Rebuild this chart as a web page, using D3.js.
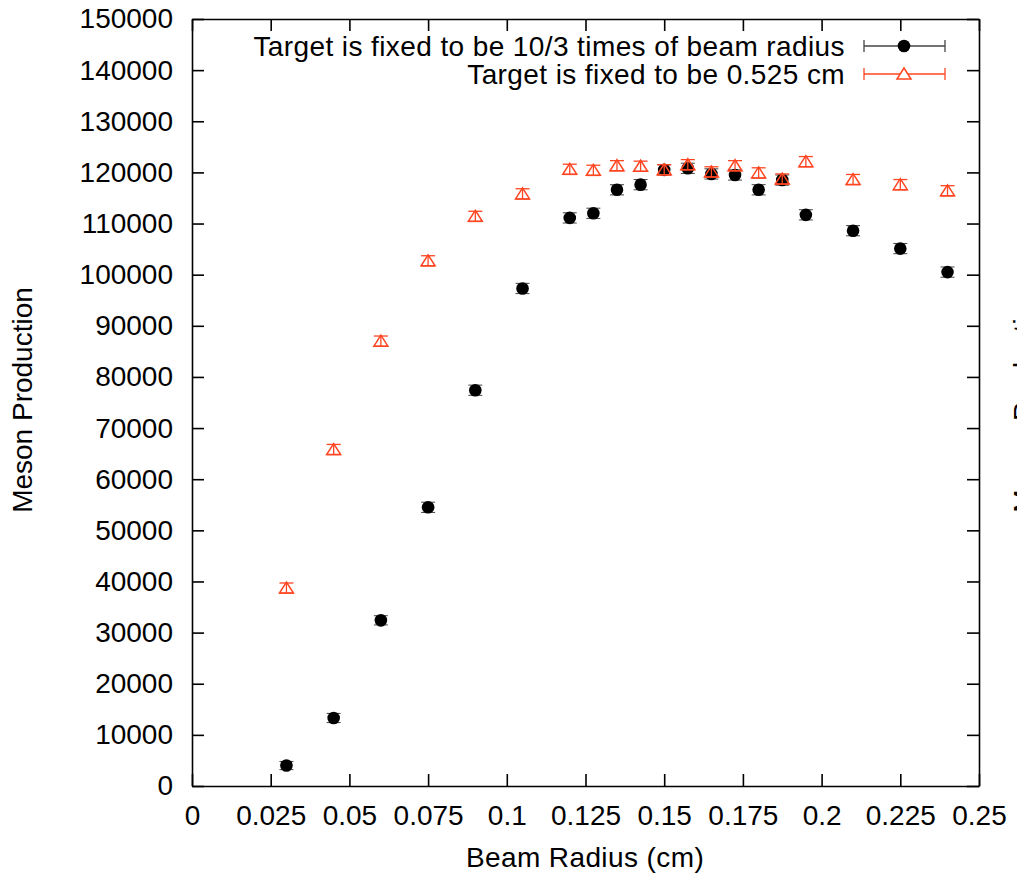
<!DOCTYPE html>
<html>
<head>
<meta charset="utf-8">
<script src="https://cdn.jsdelivr.net/npm/d3@7"></script>
<style>
  html, body { margin: 0; padding: 0; background: #fff; }
  svg { display: block; }
  text { font-family: "Liberation Sans", Arial, Helvetica, sans-serif; fill: #000; }
</style>
</head>
<body>
<svg id="chart" width="1017" height="873"></svg>
<script>
// ---- data ----
const beamRadius = [0.03, 0.045, 0.06, 0.075, 0.09, 0.105, 0.12, 0.1275, 0.135, 0.1425,
                    0.15, 0.1575, 0.165, 0.1725, 0.18, 0.1875, 0.195, 0.21, 0.225, 0.24];
const scaledTarget = [4000, 13300, 32400, 54500, 77400, 97300, 111100, 112000, 116600, 117600,
                      120500, 120800, 119700, 119500, 116600, 118500, 111700, 108600, 105100, 100500];
const scaledErr = [800, 900, 900, 1000, 1000, 1000, 1000, 1000, 1000, 1000,
                   1000, 1000, 1000, 1000, 1000, 1000, 1000, 1000, 1000, 1000];
const fixedTarget = [38700, 65800, 87000, 102700, 111400, 115800, 120600, 120400, 121300, 121200,
                     120500, 121500, 120100, 121300, 119900, 118700, 122100, 118600, 117600, 116400];
const fixedErr = [1000, 1000, 1000, 1000, 1000, 1000, 1000, 1000, 1000, 1000,
                  1000, 1000, 1000, 1000, 1000, 1000, 1000, 1000, 1000, 1000];
const xTicks = [0, 0.025, 0.05, 0.075, 0.1, 0.125, 0.15, 0.175, 0.2, 0.225, 0.25];
const xTickLabels = ["0", "0.025", "0.05", "0.075", "0.1", "0.125", "0.15", "0.175", "0.2", "0.225", "0.25"];
const yTicks = [0, 10000, 20000, 30000, 40000, 50000, 60000, 70000, 80000, 90000, 100000,
                110000, 120000, 130000, 140000, 150000];
const legendLabels = ["Target is fixed to be 10/3 times of beam radius", "Target is fixed to be 0.525 cm"];
const xTitle = "Beam Radius (cm)";
const yTitle = "Meson Production";

// ---- layout ----
const L = 192, R = 979, T = 19, B = 786;
const RED = "#ff4522";
const FS = 28;

const svg = d3.select("#chart");
const x = d3.scaleLinear().domain([0, 0.25]).range([L, R]);
const y = d3.scaleLinear().domain([0, 150000]).range([B, T]);

function styleAxis(g) {
  g.selectAll("path.domain").attr("stroke", "#000").attr("stroke-width", 1.6);
  g.selectAll(".tick line").attr("stroke", "#000").attr("stroke-width", 1.6);
  g.selectAll("text").attr("font-size", FS).attr("font-family", '"Liberation Sans", Arial, Helvetica, sans-serif');
}

// bottom
svg.append("g").attr("transform", `translate(0,${B})`)
  .call(d3.axisBottom(x).tickValues(xTicks).tickFormat((d, i) => xTickLabels[i])
        .tickSizeInner(-12).tickSizeOuter(0).tickPadding(19))
  .call(styleAxis);
// top
svg.append("g").attr("transform", `translate(0,${T})`)
  .call(d3.axisTop(x).tickValues(xTicks).tickFormat("")
        .tickSizeInner(-12).tickSizeOuter(0))
  .call(styleAxis);
// left
svg.append("g").attr("transform", `translate(${L},0)`)
  .call(d3.axisLeft(y).tickValues(yTicks).tickFormat(d3.format("d"))
        .tickSizeInner(-12).tickSizeOuter(0).tickPadding(19))
  .call(styleAxis);
// right
svg.append("g").attr("transform", `translate(${R},0)`)
  .call(d3.axisRight(y).tickValues(yTicks).tickFormat("")
        .tickSizeInner(-12).tickSizeOuter(0))
  .call(styleAxis);

// titles
svg.append("text").attr("x", 585).attr("y", 867).attr("text-anchor", "middle")
  .attr("font-size", FS).attr("letter-spacing", 0.4).text(xTitle);
svg.append("text").attr("transform", `translate(32,400) rotate(-90)`)
  .attr("text-anchor", "middle").attr("font-size", FS).text(yTitle);
// partial label of the neighbouring chart, cut by the right edge as in the reference
svg.append("text").attr("transform", `translate(1033,400) rotate(-90)`)
  .attr("text-anchor", "middle").attr("font-size", FS).text(yTitle);

// ---- symbols ----
const triPath = (cx, cy) => `M${cx - 7},${cy + 5}L${cx + 7},${cy + 5}L${cx},${cy - 6}Z`;

function errorBars(g, xs, ys, es, color, width) {
  const sel = g.selectAll(null).data(xs.map((d, i) => ({ x: d, y: ys[i], e: es[i] }))).enter().append("g");
  sel.append("line").attr("x1", d => x(d.x)).attr("x2", d => x(d.x))
    .attr("y1", d => y(d.y - d.e)).attr("y2", d => y(d.y + d.e))
    .attr("stroke", color).attr("stroke-width", width);
  sel.append("line").attr("x1", d => x(d.x) - 7).attr("x2", d => x(d.x) + 7)
    .attr("y1", d => y(d.y - d.e)).attr("y2", d => y(d.y - d.e))
    .attr("stroke", color).attr("stroke-width", width);
  sel.append("line").attr("x1", d => x(d.x) - 7).attr("x2", d => x(d.x) + 7)
    .attr("y1", d => y(d.y + d.e)).attr("y2", d => y(d.y + d.e))
    .attr("stroke", color).attr("stroke-width", width);
}

// series 1: black circles
const g1 = svg.append("g");
errorBars(g1, beamRadius, scaledTarget, scaledErr, "#444", 1);
g1.selectAll("circle").data(beamRadius).enter().append("circle")
  .attr("cx", d => x(d)).attr("cy", (d, i) => y(scaledTarget[i])).attr("r", 6.3).attr("fill", "#000");

// series 2: red open triangles
const g2 = svg.append("g");
errorBars(g2, beamRadius, fixedTarget, fixedErr, RED, 1.3);
g2.selectAll("path.tri").data(beamRadius).enter().append("path").attr("class", "tri")
  .attr("d", (d, i) => triPath(x(d), y(fixedTarget[i])))
  .attr("fill", "none").attr("stroke", RED).attr("stroke-width", 1.5);

// ---- legend ----
const legY = [46, 74];
const lx1 = 864, lx2 = 945, lxc = 904;
legendLabels.forEach((lab, i) => {
  svg.append("text").attr("x", 845).attr("y", legY[i]).attr("dy", "0.35em")
    .attr("text-anchor", "end").attr("font-size", FS).attr("letter-spacing", 0.4).text(lab);
  const col = i === 0 ? "#444" : RED;
  const gl = svg.append("g");
  gl.append("line").attr("x1", lx1).attr("x2", lx2).attr("y1", legY[i]).attr("y2", legY[i])
    .attr("stroke", col).attr("stroke-width", 1.3);
  gl.append("line").attr("x1", lx1).attr("x2", lx1).attr("y1", legY[i] - 6).attr("y2", legY[i] + 6)
    .attr("stroke", col).attr("stroke-width", 1.3);
  gl.append("line").attr("x1", lx2).attr("x2", lx2).attr("y1", legY[i] - 6).attr("y2", legY[i] + 6)
    .attr("stroke", col).attr("stroke-width", 1.3);
  if (i === 0) {
    gl.append("circle").attr("cx", lxc).attr("cy", legY[i]).attr("r", 6.3).attr("fill", "#000");
  } else {
    gl.append("path").attr("d", triPath(lxc, legY[i])).attr("fill", "#fff")
      .attr("stroke", RED).attr("stroke-width", 1.5);
  }
});
</script>
</body>
</html>
